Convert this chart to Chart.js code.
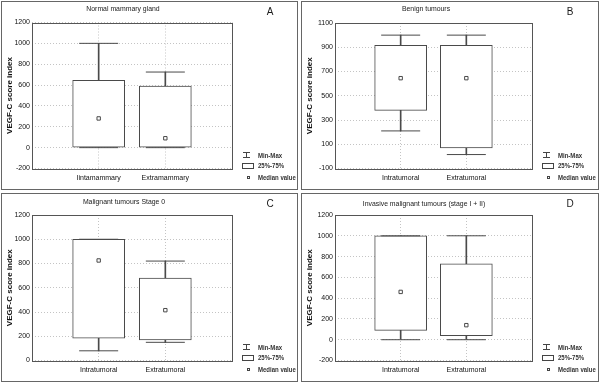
<!DOCTYPE html>
<html>
<head>
<meta charset="utf-8">
<script src="https://cdn.jsdelivr.net/npm/chart.js@4.4.0/dist/chart.umd.min.js"></script>
<style>
  body { margin: 0; width: 600px; height: 383px; background: #fff; position: relative; overflow: hidden;
         font-family: 'Liberation Sans', Arial, sans-serif; color: #1a1a1a; }
  .panel { position: absolute; border: 1px solid #666; box-sizing: border-box; }
  .panel canvas { position: absolute; left: 0; top: 0; }
  .ttl { position: absolute; font-size: 8px; line-height: 10px; white-space: nowrap; transform: translateX(-50%) scaleX(0.86); }
  .lett { position: absolute; font-size: 10px; line-height: 10px; transform: translateX(-50%); }
  .leg { position: absolute; left: 256px; font-size: 7px; font-weight: bold; line-height: 9px; white-space: nowrap;
         color: #333; transform: scaleX(0.86); transform-origin: left center; }
  .ico { position: absolute; box-sizing: border-box; }
  .ico.mm { left: 241px; width: 7px; height: 6px; border-top: 1px solid #444; border-bottom: 1px solid #444; }
  .ico.mm::after { content: ''; position: absolute; left: 3px; top: 0; width: 1px; height: 4px; background: #444; }
  .ico.bx { left: 240px; width: 12px; height: 6px; border: 1px solid #444; }
  .ico.md { left: 245px; width: 3px; height: 3px; border: 1px solid #444; }
</style>
</head>
<body>
<script>
  // panel texts
  const letters = ['A', 'B', 'C', 'D'];
  const titles = ['Normal mammary gland', 'Benign tumours', 'Malignant tumours Stage 0', 'Invasive malignant tumours (stage I + II)'];
  const categories = [
    ['Iintamammary', 'Extramammary'],
    ['Intratumoral', 'Extratumoral'],
    ['Intratumoral', 'Extratumoral'],
    ['Intratumoral', 'Extratumoral']
  ];

  // box plot values, one pair per panel
  const minVals    = [[0, 0],      [210, 15],    [80, 150],   [0, 0]];
  const q1Vals     = [[0, 0],      [380, 70],    [185, 170],  [90, 40]];
  const medianVals = [[280, 90],   [645, 645],   [825, 415],  [460, 140]];
  const q3Vals     = [[645, 590],  [915, 915],   [1000, 680], [1000, 730]];
  const maxVals    = [[1000, 725], [1000, 1000], [1000, 820], [1000, 1000]];

  // y axis ticks
  const yMin = [-200, -100, 0, -200];
  const yMax = [1200, 1100, 1200, 1200];
  const yStep = 200;

  const legendLabels = ['Min-Max', '25%-75%', 'Median value'];

  // layout (panel frame and plot area inside it)
  const frames = [
    { left: 1, top: 1, w: 297, h: 189 },
    { left: 301, top: 1, w: 298, h: 189 },
    { left: 1, top: 193, w: 297, h: 189 },
    { left: 301, top: 193, w: 298, h: 189 }
  ];
  const areas = [
    { l: 30, t: 20, r: 230, b: 171 },
    { l: 33, t: 21, r: 230, b: 171 },
    { l: 30, t: 21, r: 230, b: 171 },
    { l: 33, t: 21, r: 230, b: 171 }
  ];
  const titleX = [121, 124, 122, 122];
  const titleY = [7, 7, 8, 10];

  const FONT = "'Liberation Sans', Arial, sans-serif";
  const LINE = '#4a4a4a';
  const GRID = '#c4c4c4';

  const pad = arr => [null, ...arr, null];

  //  plot frame on all four sides
  const framePlugin = {
    id: 'frame',
    afterDraw(chart) {
      const { ctx, chartArea: a } = chart;
      ctx.save();
      ctx.strokeStyle = '#555';
      ctx.lineWidth = 1;
      ctx.strokeRect(Math.round(a.left) + 0.5, Math.round(a.top) + 0.5,
        Math.round(a.right - a.left), Math.round(a.bottom - a.top));
      ctx.restore();
    }
  };

  frames.forEach((f, i) => {
    const div = document.createElement('div');
    div.className = 'panel';
    div.style.left = f.left + 'px';
    div.style.top = f.top + 'px';
    div.style.width = f.w + 'px';
    div.style.height = f.h + 'px';
    document.body.appendChild(div);

    const W = f.w - 2, H = f.h - 2;
    const a = areas[i];
    const canvas = document.createElement('canvas');
    canvas.width = W;
    canvas.height = H;
    div.appendChild(canvas);

    // title, letter, legend
    const t = document.createElement('div');
    t.className = 'ttl';
    t.textContent = titles[i];
    t.style.left = titleX[i] + 'px';
    t.style.top = (titleY[i] - 5) + 'px';
    div.appendChild(t);

    const l = document.createElement('div');
    l.className = 'lett';
    l.textContent = letters[i];
    l.style.left = '268px';
    l.style.top = '5px';
    div.appendChild(l);

    const rows = [153, 163.5, 175.5];
    ['mm', 'bx', 'md'].forEach((c, k) => {
      const ic = document.createElement('div');
      ic.className = 'ico ' + c;
      const hgt = c === 'md' ? 3 : 6;
      ic.style.top = (rows[k] - hgt / 2) + 'px';
      div.appendChild(ic);
      const tx = document.createElement('div');
      tx.className = 'leg';
      tx.textContent = legendLabels[k];
      tx.style.top = (rows[k] - 4.5) + 'px';
      div.appendChild(tx);
    });

    const tickFont = { family: FONT, size: 7 };

    new Chart(canvas.getContext('2d'), {
      type: 'bar',
      data: {
        labels: ['', ...categories[i], ''],
        datasets: [
          {
            label: 'whisker',
            data: pad(minVals[i].map((v, k) => [v, maxVals[i][k]])),
            backgroundColor: LINE,
            barThickness: 1,
            grouped: false,
            order: 4
          },
          {
            label: '25%-75%',
            data: pad(q1Vals[i].map((v, k) => [v, q3Vals[i][k]])),
            backgroundColor: '#fff',
            borderColor: LINE,
            borderWidth: 1,
            borderSkipped: false,
            barThickness: 52,
            grouped: false,
            order: 3
          },
          {
            type: 'line',
            label: 'min',
            data: pad(minVals[i]),
            showLine: false,
            pointStyle: 'line',
            pointRadius: 19.5,
            pointBorderWidth: 1,
            pointBorderColor: LINE,
            order: 2
          },
          {
            type: 'line',
            label: 'max',
            data: pad(maxVals[i]),
            showLine: false,
            pointStyle: 'line',
            pointRadius: 19.5,
            pointBorderWidth: 1,
            pointBorderColor: LINE,
            order: 2
          },
          {
            type: 'line',
            label: 'Median value',
            data: pad(medianVals[i]),
            showLine: false,
            pointStyle: 'rect',
            pointRadius: 2.4,
            pointBorderWidth: 1,
            pointBorderColor: LINE,
            pointBackgroundColor: '#fff',
            order: 1
          }
        ]
      },
      options: {
        responsive: false,
        animation: false,
        events: [],
        layout: { padding: { top: a.t, right: W - a.r, bottom: 0, left: 0 } },
        plugins: { legend: { display: false }, tooltip: { enabled: false } },
        scales: {
          x: {
            type: 'category',
            offset: false,
            grid: { offset: false, color: GRID, drawTicks: false },
            border: { display: false, dash: [1, 2] },
            ticks: { autoSkip: false, maxRotation: 0, padding: 5, color: '#111', font: tickFont },
            afterFit: s => { s.height = H - a.b; }
          },
          y: {
            min: yMin[i],
            max: yMax[i],
            grid: { color: GRID, drawTicks: false },
            border: { display: false, dash: [1, 2] },
            ticks: { stepSize: yStep, padding: 2, color: '#111', font: tickFont, callback: v => String(v) },
            title: {
              display: true,
              text: 'VEGF-C score index',
              color: '#111',
              font: { family: FONT, size: 8, weight: 'bold' },
              padding: { top: 3, bottom: 0 }
            },
            afterFit: s => { s.width = a.l; }
          }
        }
      },
      plugins: [framePlugin]
    });
  });
</script>
</body>
</html>
